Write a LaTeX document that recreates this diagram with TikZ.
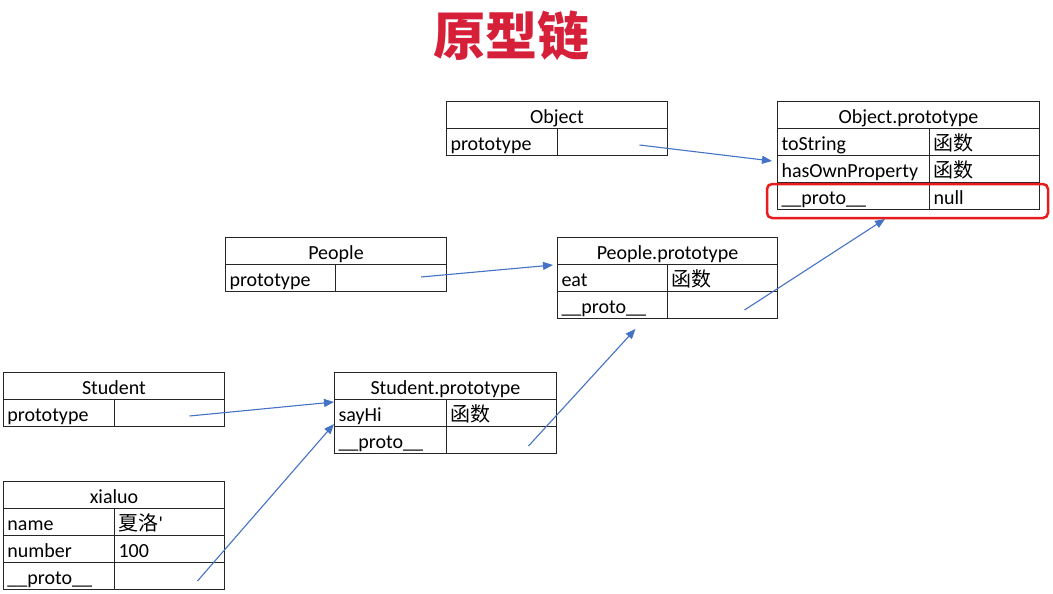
\documentclass[tikz,border=0pt]{standalone}
\usepackage{fontspec}
\setmainfont{Carlito}
\newfontfamily\cjk{Noto Sans CJK SC}
\usetikzlibrary{arrows.meta}
\definecolor{linkblue}{RGB}{68,114,196}
\definecolor{titlered}{RGB}{214,32,58}
\definecolor{boxred}{RGB}{232,28,28}

\begin{document}
\begin{tikzpicture}[x=1pt, y=-1pt,
      cell/.style={rectangle, draw=black!85, line width=1pt, anchor=north west, minimum height=27pt, inner xsep=4pt, inner ysep=0pt, text height=22pt, text depth=5pt, font=\fontsize{20}{24}\selectfont},
      head/.style={cell, minimum width=#1, align=center},
      key/.style={cell, text width=#1, align=left},
      link/.style={draw=linkblue, line width=1.1pt, -{Triangle[length=10pt,width=8pt]}}]
      \useasboundingbox (0,0) rectangle (1053,594);
      \node[font=\cjk\bfseries\fontsize{52}{60}\selectfont, text=titlered](title) at (511,36){原型链};
      \node[head=221pt](obj) at (446,101){Object};
      \node[key=103pt](objk) at (446,128){prototype};
      \node[key=102pt](objv) at (557,128){};
      \node[head=262pt](op) at (777,101){Object.prototype};
      \node[key=144pt](opk1) at (777,128){toString};
      \node[key=102pt](opv1) at (929,128){\cjk 函数};
      \node[key=144pt](opk2) at (777,155){hasOwnProperty};
      \node[key=102pt](opv2) at (929,155){\cjk 函数};
      \node[key=144pt](opk3) at (777,182){\_\_proto\_\_};
      \node[key=102pt](opv3) at (929,182){null};
      \node[head=221pt](pp) at (225,237){People};
      \node[key=102pt](pk) at (225,264){prototype};
      \node[key=103pt](pv) at (335,264){};
      \node[head=220pt](ppt) at (557,237){People.prototype};
      \node[key=102pt](ppk1) at (557,264){eat};
      \node[key=102pt](ppv1) at (667,264){\cjk 函数};
      \node[key=102pt](ppk2) at (557,291){\_\_proto\_\_};
      \node[key=102pt](ppv2) at (667,291){};
      \node[head=221pt](st) at (3,372){Student};
      \node[key=103pt](stk) at (3,399){prototype};
      \node[key=102pt](stv) at (114,399){};
      \node[head=222pt](spt) at (334,372){Student.prototype};
      \node[key=104pt](spk1) at (334,399){sayHi};
      \node[key=102pt](spv1) at (446,399){\cjk 函数};
      \node[key=104pt](spk2) at (334,426){\_\_proto\_\_};
      \node[key=102pt](spv2) at (446,426){};
      \node[head=221pt](xl) at (3,481){xialuo};
      \node[key=103pt](xk1) at (3,508){name};
      \node[key=102pt](xv1) at (114,508){{\cjk 夏洛}\textquotesingle};
      \node[key=103pt](xk2) at (3,535){number};
      \node[key=102pt](xv2) at (114,535){100};
      \node[key=103pt](xk3) at (3,562){\_\_proto\_\_};
      \node[key=102pt](xv3) at (114,562){};
      \draw[boxred, line width=2.5pt, rounded corners=5pt] ([shift={(-10,2)}]opk3.north west) rectangle ([shift={(8,8)}]opv3.south east);
      \coordinate(t1) at ([shift={(27,3)}]objv.center);
      \coordinate(h1) at ([shift={(-5,5)}]opk1.south west);
      \coordinate(t2) at ([shift={(30,-1)}]pv.center);
      \coordinate(h2) at ([shift={(-4,1)}]ppk1.north west);
      \coordinate(t3) at ([shift={(22,5)}]ppv2.center);
      \coordinate(h3) at ([shift={(-45,9)}]opk3.south east);
      \coordinate(t4) at ([shift={(20,3)}]stv.center);
      \coordinate(h4) at ([shift={(0,3)}]spk1.north west);
      \coordinate(t5) at ([shift={(27,6)}]spv2.center);
      \coordinate(h5) at ([shift={(23,10)}]ppk2.south);
      \coordinate(t6) at ([shift={(28,5)}]xv3.center);
      \coordinate(h6) at ([shift={(0,-3)}]spk1.south west);
      \draw[link] (t1) -- (h1);
      \draw[link] (t2) -- (h2);
      \draw[link] (t3) -- (h3);
      \draw[link] (t4) -- (h4);
      \draw[link] (t5) -- (h5);
      \draw[link] (t6) -- (h6);
    \end{tikzpicture}
\end{document}
